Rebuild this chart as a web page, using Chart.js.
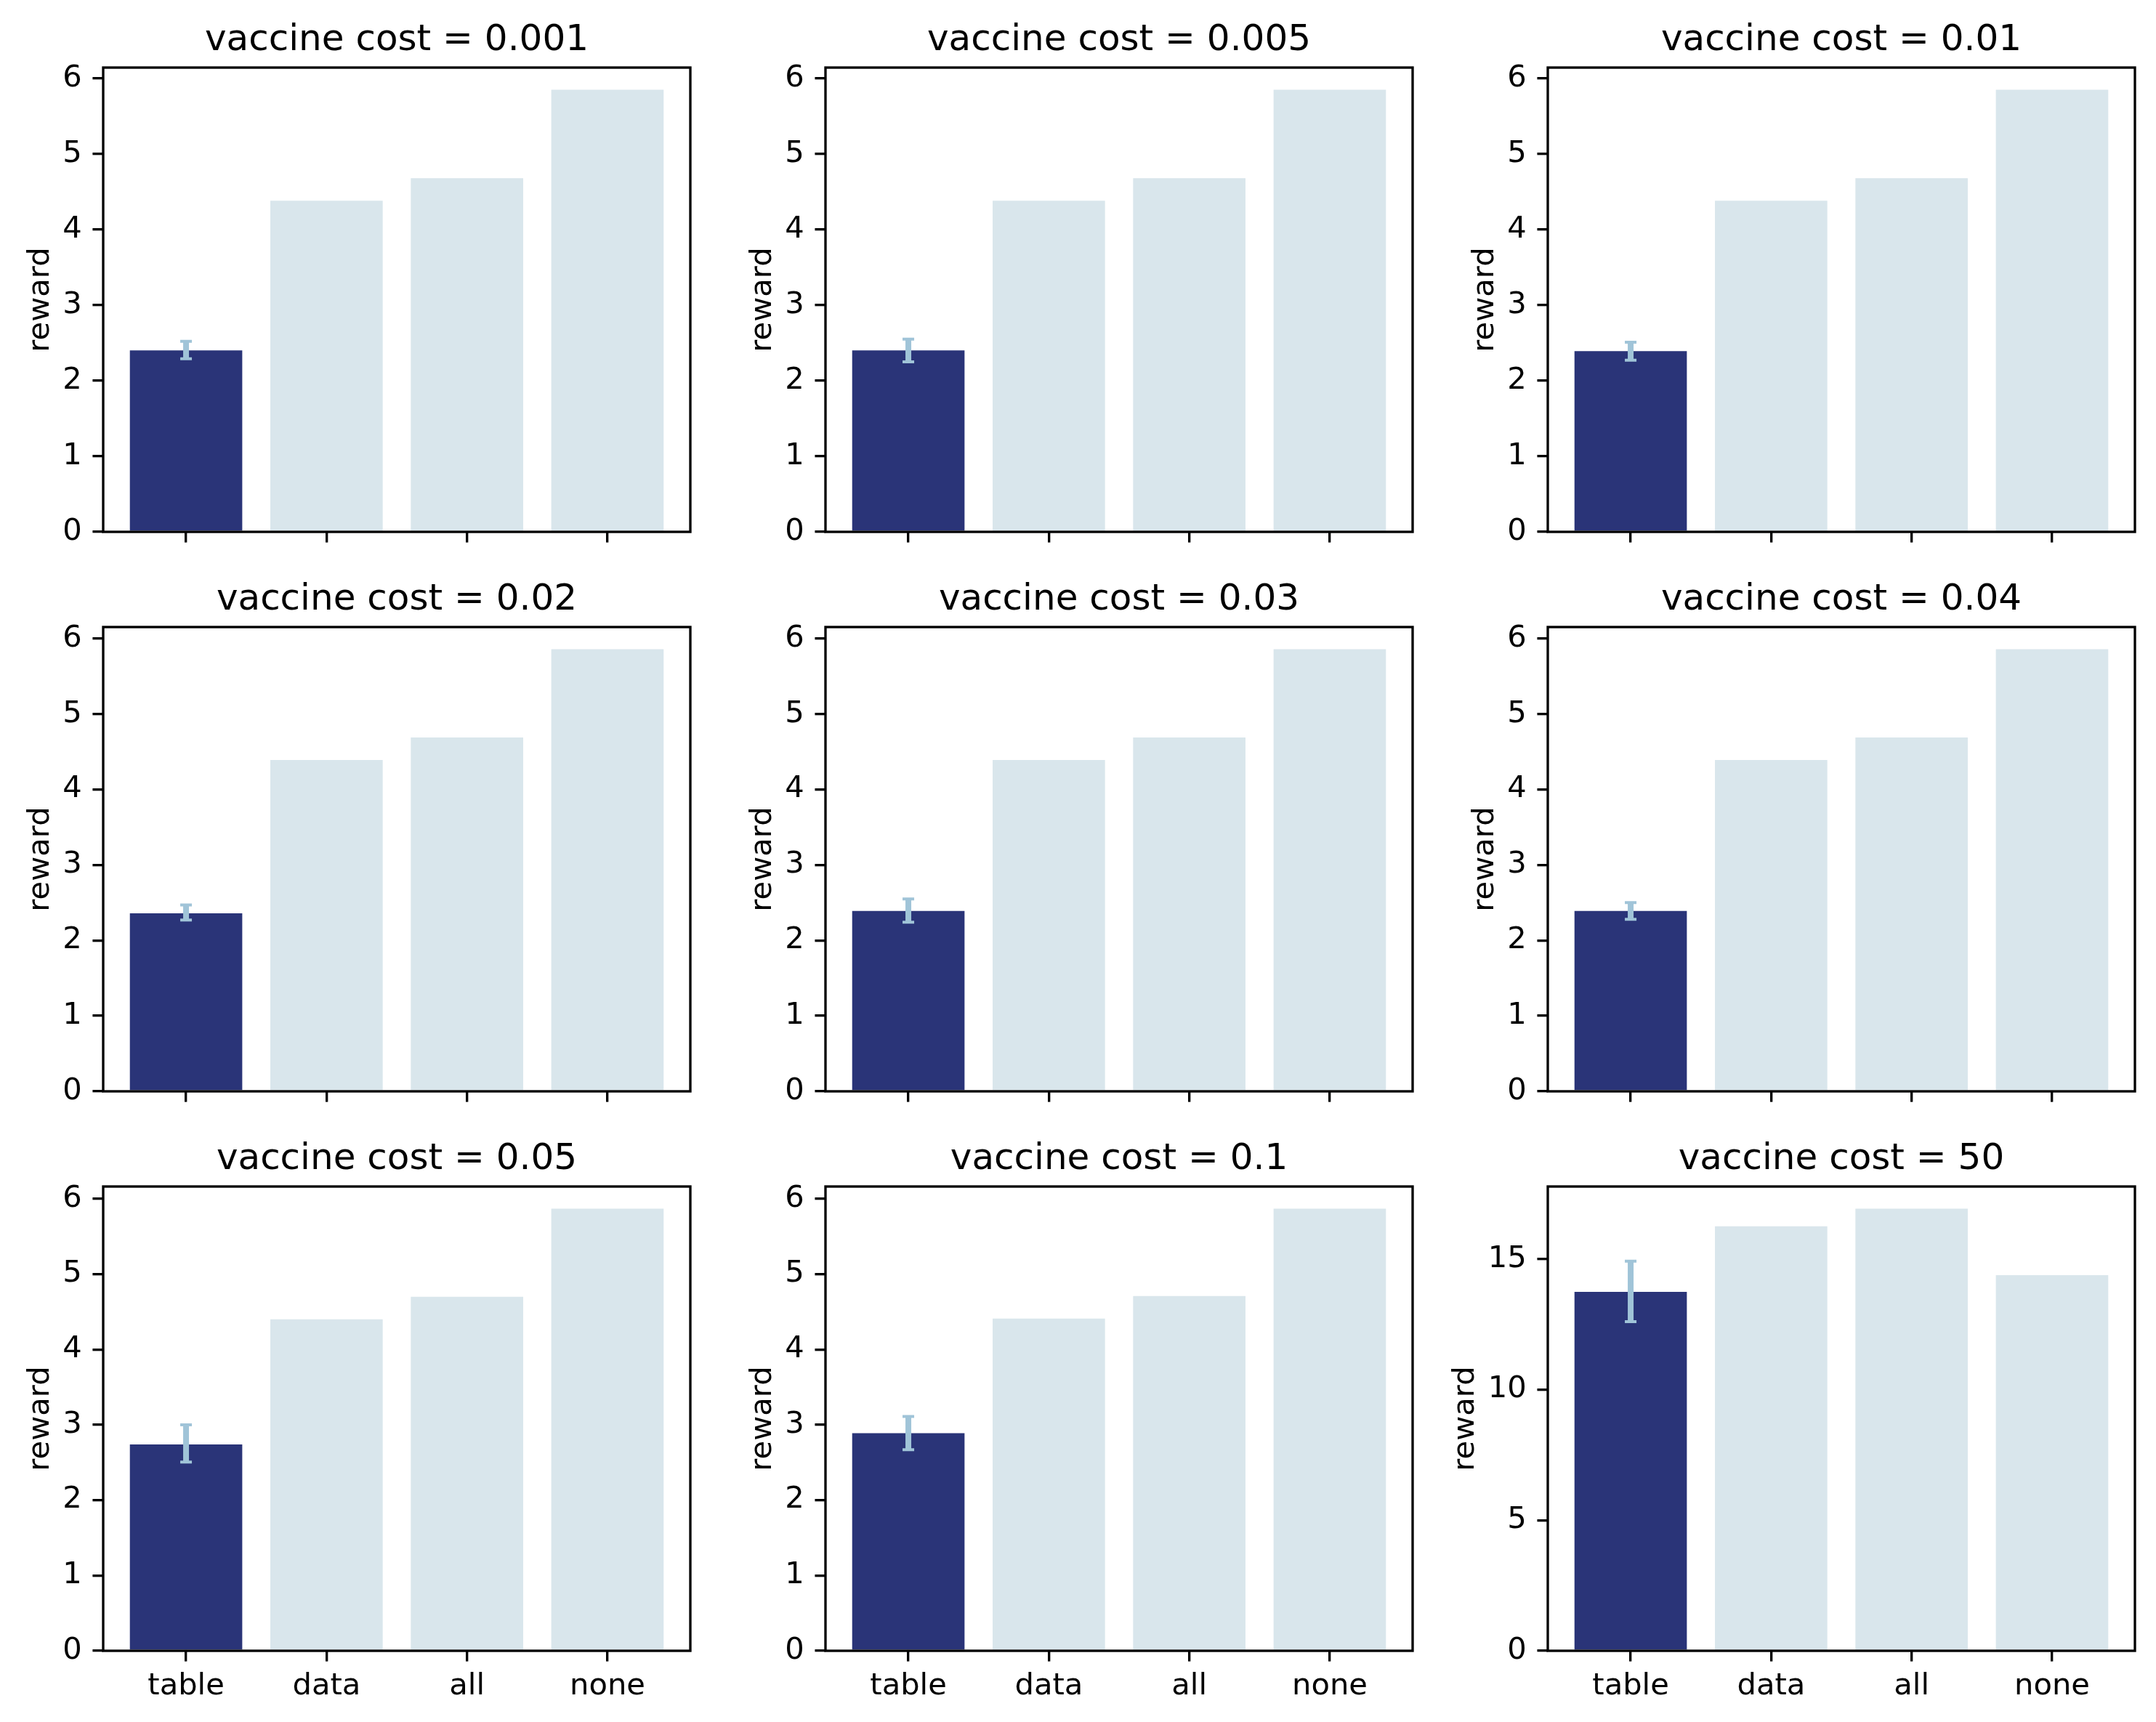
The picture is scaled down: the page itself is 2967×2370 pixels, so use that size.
<!DOCTYPE html>
<html>
<head>
<meta charset="utf-8">
<script src="https://cdn.jsdelivr.net/npm/chart.js@4.4.1/dist/chart.umd.min.js"></script>
<style>
html, body { margin: 0; padding: 0; background: #ffffff; overflow: hidden; width: 2967px; height: 2370px; }
canvas { position: absolute; }
</style>
</head>
<body>
<script>
// ---------------- data ----------------
const categories = ["table", "data", "all", "none"];
const panelTitles = [
  "vaccine cost = 0.001", "vaccine cost = 0.005", "vaccine cost = 0.01",
  "vaccine cost = 0.02",  "vaccine cost = 0.03",  "vaccine cost = 0.04",
  "vaccine cost = 0.05",  "vaccine cost = 0.1",   "vaccine cost = 50"
];
const tableReward  = [2.40, 2.40, 2.39, 2.36, 2.39, 2.39, 2.74, 2.89, 13.74];
const tableErrLow  = [2.29, 2.25, 2.27, 2.27, 2.24, 2.28, 2.505, 2.67, 12.60];
const tableErrHigh = [2.52, 2.55, 2.51, 2.47, 2.55, 2.50, 3.00, 3.11, 14.92];
const dataReward   = [4.38, 4.38, 4.38, 4.39, 4.39, 4.39, 4.40, 4.41, 16.25];
const allReward    = [4.68, 4.68, 4.68, 4.69, 4.69, 4.69, 4.70, 4.71, 16.93];
const noneReward   = [5.85, 5.85, 5.85, 5.86, 5.86, 5.86, 5.87, 5.87, 14.38];
const yTickStep    = [1, 1, 1, 1, 1, 1, 1, 1, 5];
const yAxisLabel = "reward";

// ---------------- style / layout ----------------
const FONT = "'DejaVu Sans', sans-serif";
const PT = 300 / 72;
const COLORS = { highlight: "#2a3478", other: "#d9e6ec", err: "#a0c4d8", ink: "#000000" };
const canvasLeft = [0, 994, 1988];
const canvasTop = [0, 770, 1540];
const CANVAS_W = 980, CANVAS_H = 833;
const Y_AXIS_W = 142, X_AXIS_H = 101, RIGHT_PAD = 30;
const TICK_LEN = 3.5 * PT, LINE_W = 0.8 * PT;
const TICK_FONT = 10 * PT, TITLE_FONT = 12 * PT;

Chart.defaults.color = COLORS.ink;
Chart.defaults.font.family = FONT;

const spinePlugin = {
  id: "spines",
  afterDatasetsDraw(chart) {
    const { ctx, chartArea: a } = chart;
    ctx.save();
    ctx.strokeStyle = COLORS.ink;
    ctx.lineWidth = LINE_W;
    ctx.lineJoin = "miter";
    ctx.strokeRect(a.left, a.top, a.right - a.left, a.bottom - a.top);
    ctx.restore();
  }
};

function errPlugin(i) {
  const idx = categories.indexOf("table");
  return {
    id: "errbars" + i,
    afterDatasetsDraw(chart) {
      const { ctx, scales: { x, y } } = chart;
      const px = x.getPixelForValue(idx);
      const yl = y.getPixelForValue(tableErrLow[i]);
      const yh = y.getPixelForValue(tableErrHigh[i]);
      ctx.save();
      ctx.strokeStyle = COLORS.err;
      ctx.lineWidth = 8;
      ctx.beginPath();
      ctx.moveTo(px, yl); ctx.lineTo(px, yh);
      ctx.stroke();
      ctx.lineWidth = 4;
      ctx.beginPath();
      ctx.moveTo(px - 8, yl); ctx.lineTo(px + 8, yl);
      ctx.moveTo(px - 8, yh); ctx.lineTo(px + 8, yh);
      ctx.stroke();
      ctx.restore();
    }
  };
}

const gridOpts = () => ({
  display: true, drawOnChartArea: false, drawTicks: true, offset: false,
  tickLength: TICK_LEN, lineWidth: LINE_W, tickWidth: LINE_W,
  tickColor: COLORS.ink, color: COLORS.ink
});

for (let i = 0; i < 9; i++) {
  const col = i % 3, row = Math.floor(i / 3);
  const cv = document.createElement("canvas");
  cv.width = CANVAS_W; cv.height = CANVAS_H;
  cv.style.left = canvasLeft[col] + "px";
  cv.style.top = canvasTop[row] + "px";
  cv.style.width = CANVAS_W + "px";
  cv.style.height = CANVAS_H + "px";
  document.body.appendChild(cv);

  const vals = [tableReward[i], dataReward[i], allReward[i], noneReward[i]];
  const yMax = Math.max(...vals, tableErrHigh[i]) * 1.05;
  const step = yTickStep[i];
  const n = categories.length;
  const xMin = -0.4 - 0.05 * (n - 1 + 0.8);
  const xMax = (n - 1) + 0.4 + 0.05 * (n - 1 + 0.8);
  const widest = String(Math.floor(yMax / step) * step).length;
  const ylabPad = 35 - (widest - 1) * 26.5;

  new Chart(cv, {
    type: "bar",
    data: {
      datasets: [{
        data: vals.map((v, k) => ({ x: k, y: v })),
        backgroundColor: vals.map((v, k) => k === 0 ? COLORS.highlight : COLORS.other),
        borderWidth: 0,
        barPercentage: 0.8,
        categoryPercentage: 1.0
      }]
    },
    options: {
      responsive: false,
      animation: false,
      devicePixelRatio: 1,
      layout: { padding: { left: 0, right: RIGHT_PAD, top: 0, bottom: 0 } },
      plugins: {
        legend: { display: false },
        tooltip: { enabled: false },
        title: {
          display: true, text: panelTitles[i], fullSize: false, color: COLORS.ink,
          font: { family: FONT, size: TITLE_FONT, weight: "normal", lineHeight: 1.2 },
          padding: { top: 25.7, bottom: 7.3 }
        }
      },
      scales: {
        x: {
          type: "linear", min: xMin, max: xMax, offset: false,
          afterBuildTicks: (s) => { s.ticks = categories.map((c, k) => ({ value: k })); },
          afterFit: (s) => { s.height = X_AXIS_H; },
          grid: gridOpts(),
          border: { display: false },
          ticks: {
            autoSkip: false, maxRotation: 0, minRotation: 0, padding: 10, color: COLORS.ink,
            font: { family: FONT, size: TICK_FONT, lineHeight: 1.2 },
            callback: (v) => row === 2 ? categories[Math.round(v)] : ""
          }
        },
        y: {
          type: "linear", min: 0, max: yMax, offset: false,
          afterBuildTicks: (s) => {
            const t = [];
            for (let k = 0; k * step <= yMax + 1e-9; k++) t.push({ value: k * step });
            s.ticks = t;
          },
          afterFit: (s) => { s.width = Y_AXIS_W; },
          grid: gridOpts(),
          border: { display: false },
          ticks: {
            stepSize: step, padding: TICK_LEN, color: COLORS.ink,
            font: { family: FONT, size: TICK_FONT, lineHeight: 1.2 }
          },
          title: {
            display: true, text: yAxisLabel, color: COLORS.ink,
            font: { family: FONT, size: TICK_FONT, lineHeight: 1, weight: "normal" },
            padding: { top: ylabPad, bottom: 0 }
          }
        }
      }
    },
    plugins: [errPlugin(i), spinePlugin]
  });
}
</script>
</body>
</html>
